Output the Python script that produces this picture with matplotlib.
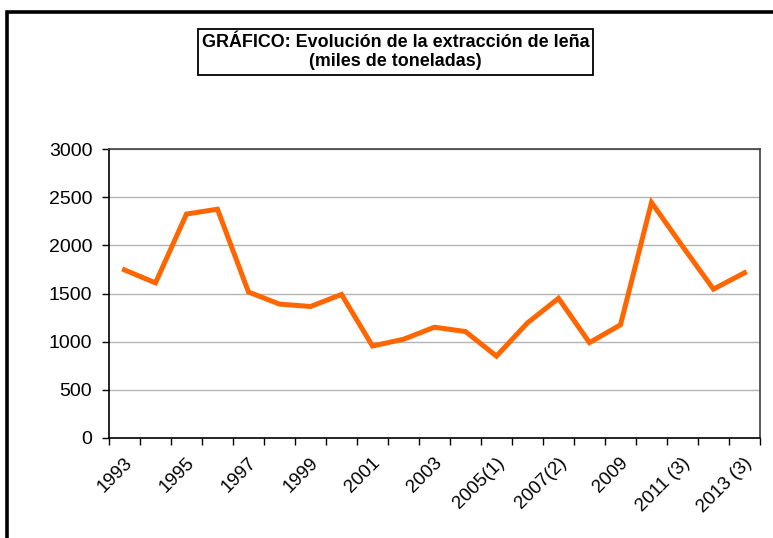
import matplotlib.pyplot as plt
from matplotlib.patches import Rectangle
from matplotlib.transforms import ScaledTranslation

plt.rcParams['font.family'] = ['Liberation Sans', 'DejaVu Sans']

# extraccion de lena, miles de toneladas
years = ["1993", "1994", "1995", "1996", "1997", "1998", "1999", "2000",
         "2001", "2002", "2003", "2004", "2005(1)", "2006", "2007(2)", "2008",
         "2009", "2010", "2011 (3)", "2012", "2013 (3)"]
values = [1745, 1610, 2325, 2375, 1515, 1390, 1365, 1490, 955, 1025,
          1150, 1105, 850, 1195, 1450, 990, 1175, 2445, 1990, 1545, 1715]
yticks = [0, 500, 1000, 1500, 2000, 2500, 3000]

fig = plt.figure(figsize=(7.73, 5.38), dpi=100)
W, H = 773, 538

# outer frame (runs off the right/bottom edge)
fig.patches.append(Rectangle((7.5 / W, -0.1), 1.2, (538 - 12.5) / H + 0.1,
                             transform=fig.transFigure, fill=False,
                             edgecolor='black', linewidth=2.6))

ax = fig.add_axes([109 / W, (538 - 438) / H, (760 - 109) / W, (438 - 149) / H])
x = list(range(len(years)))
ax.plot(x, values, color='#FF6600', linewidth=3.6, solid_joinstyle='miter')

ax.set_xlim(-0.5, len(years) - 0.5)
ax.set_ylim(0, 3000)
ax.set_yticks(yticks)
ax.set_yticklabels([str(v) for v in yticks], fontsize=14)
ax.yaxis.grid(True, color='#b4b4b4', linewidth=1)
ax.set_axisbelow(True)

# tick marks between categories, labels on every other category
ax.set_xticks([i - 0.5 for i in range(len(years) + 1)])
ax.set_xticklabels([])
ax.set_xticks(x[::2], minor=True)
ax.set_xticklabels(years[::2], minor=True, rotation=45, ha='right',
                   va='center', rotation_mode='anchor', fontsize=13.5)
ax.tick_params(axis='x', which='minor', length=0, pad=16)
ax.tick_params(axis='y', which='major', pad=7)
ax.tick_params(axis='both', which='major', length=5, width=1, color='black', direction='out')
shift = ScaledTranslation(5 / 100, 0, fig.dpi_scale_trans)
for lab in ax.get_xticklabels(minor=True):
    lab.set_transform(lab.get_transform() + shift)

for s in ['left', 'bottom']:
    ax.spines[s].set_color('black')
    ax.spines[s].set_linewidth(1.2)
for s in ['top', 'right']:
    ax.spines[s].set_color('#404040')
    ax.spines[s].set_linewidth(1.2)

# title box
fig.patches.append(Rectangle((198 / W, (538 - 75) / H), (593 - 198) / W, 46 / H,
                             transform=fig.transFigure, facecolor='white',
                             edgecolor='black', linewidth=1.3))
fig.text(395.5 / W, (538 - 52) / H,
         "GRÁFICO: Evolución de la extracción de leña\n(miles de toneladas)",
         ha='center', va='center', fontsize=12.9, fontweight='bold',
         linespacing=1.1)

fig.savefig('out.png', dpi=100)
